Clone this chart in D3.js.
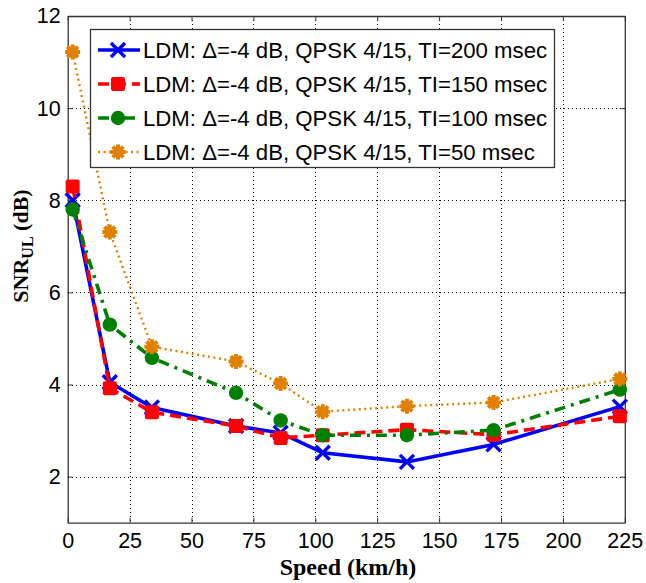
<!DOCTYPE html>
<html>
<head>
<meta charset="utf-8">
<script src="https://cdn.jsdelivr.net/npm/d3@7"></script>
<style>
  body { margin: 0; background: #fff; }
  svg { display: block; }
</style>
</head>
<body>
<script>
// speed points (km/h) shared by every curve
var speeds = [2, 17, 34, 68, 86, 103, 137, 172, 223];

var ti200 = [8.0, 4.05, 3.5, 3.1, 2.95, 2.52, 2.32, 2.7, 3.52];
var ti150 = [8.3, 3.92, 3.4, 3.1, 2.84, 2.9, 3.02, 2.91, 3.31];
var ti100 = [7.8, 5.3, 4.58, 3.82, 3.22, 2.9, 2.9, 3.01, 3.89];
var ti50  = [11.22, 7.31, 4.82, 4.5, 4.02, 3.41, 3.53, 3.61, 4.12];

var xTicks = [0, 25, 50, 75, 100, 125, 150, 175, 200, 225];
var yTicks = [2, 4, 6, 8, 10, 12];

var labels = [
    "LDM: \u0394=-4 dB, QPSK 4/15, TI=200 msec",
    "LDM: \u0394=-4 dB, QPSK 4/15, TI=150 msec",
    "LDM: \u0394=-4 dB, QPSK 4/15, TI=100 msec",
    "LDM: \u0394=-4 dB, QPSK 4/15, TI=50 msec"
];

var series = [
    {name: labels[0], values: ti200, color: "#0000ff", dash: null,         width: 3.6, marker: "cross"},
    {name: labels[1], values: ti150, color: "#ff0000", dash: "11,6",       width: 3.6, marker: "square"},
    {name: labels[2], values: ti100, color: "#008000", dash: "11,6,3,6",   width: 3.6, marker: "circle"},
    {name: labels[3], values: ti50,  color: "#e08000", dash: "2,3.5",      width: 2.4, marker: "star"}
];

var W = 646, H = 583;
var pl = 67.7, pr = 624.8, pt = 16, pb = 522.7;

var svg = d3.select("body").append("svg").attr("width", W).attr("height", H);

var x = d3.scaleLinear().domain([0, 225]).range([pl, pr]);
var y = d3.scaleLinear().domain([1, 12]).range([pb, pt]);

// grid (dotted)
var grid = svg.append("g").attr("stroke", "#000").attr("stroke-width", 1)
    .attr("stroke-dasharray", "1,3").attr("shape-rendering", "crispEdges");
grid.selectAll(".gx").data(xTicks.slice(1, -1)).enter().append("line")
    .attr("x1", function (d) { return Math.round(x(d)) + 0.5; })
    .attr("x2", function (d) { return Math.round(x(d)) + 0.5; })
    .attr("y1", pt).attr("y2", pb);
grid.selectAll(".gy").data(yTicks.slice(0, -1)).enter().append("line")
    .attr("y1", function (d) { return Math.round(y(d)) + 0.5; })
    .attr("y2", function (d) { return Math.round(y(d)) + 0.5; })
    .attr("x1", pl).attr("x2", pr);

// axes, ticks pointing inwards like matlab
var font = "'Liberation Sans', Arial, sans-serif";
svg.append("g").attr("transform", "translate(0," + pb + ")")
    .call(d3.axisBottom(x).tickValues(xTicks).tickSizeInner(-5).tickSizeOuter(0).tickPadding(10));
svg.append("g").attr("transform", "translate(" + pl + ",0)")
    .call(d3.axisLeft(y).tickValues(yTicks).tickSizeInner(-5).tickSizeOuter(0).tickPadding(7));
svg.append("g").attr("transform", "translate(0," + pt + ")")
    .call(d3.axisTop(x).tickValues(xTicks).tickSizeInner(-5).tickSizeOuter(0).tickFormat(""));
svg.append("g").attr("transform", "translate(" + pr + ",0)")
    .call(d3.axisRight(y).tickValues(yTicks).tickSizeInner(-5).tickSizeOuter(0).tickFormat(""));
svg.selectAll(".domain").attr("stroke", "#333").attr("stroke-width", 1.3);
svg.selectAll(".tick line").attr("stroke", "#333");
svg.selectAll(".tick text").attr("font-family", font).attr("font-size", 21.5).attr("fill", "#000");

// lines
var line = d3.line()
    .x(function (d, i) { return x(speeds[i]); })
    .y(function (d) { return y(d); });

function marker(g, type, color) {
    if (type === "cross") {
        g.append("path").attr("d", "M-7,-7L7,7M-7,7L7,-7")
            .attr("stroke", color).attr("stroke-width", 3.4).attr("fill", "none");
    } else if (type === "square") {
        g.append("rect").attr("x", -7).attr("y", -7).attr("width", 14).attr("height", 14)
            .attr("rx", 2).attr("fill", color);
    } else if (type === "circle") {
        g.append("circle").attr("r", 7.2).attr("fill", color);
    } else {
        g.append("path")
            .attr("d", "M-7.5,0L7.5,0M0,-7.5L0,7.5M-5.3,-5.3L5.3,5.3M-5.3,5.3L5.3,-5.3")
            .attr("stroke", color).attr("stroke-width", 4).attr("fill", "none");
    }
}

series.forEach(function (s) {
    var g = svg.append("g");
    g.append("path").datum(s.values)
        .attr("d", line).attr("fill", "none")
        .attr("stroke", s.color).attr("stroke-width", s.width)
        .attr("stroke-dasharray", s.dash);
    g.selectAll(".m").data(s.values).enter().append("g")
        .attr("transform", function (d, i) { return "translate(" + x(speeds[i]) + "," + y(d) + ")"; })
        .each(function () { marker(d3.select(this), s.marker, s.color); });
});

// legend
var lg = svg.append("g");
lg.append("rect").attr("x", 90.5).attr("y", 29.5).attr("width", 464).attr("height", 138)
    .attr("fill", "#fff").attr("stroke", "#333").attr("stroke-width", 1.3);
series.forEach(function (s, i) {
    var cy = 50 + i * 34;
    lg.append("line").attr("x1", 98).attr("x2", 140).attr("y1", cy).attr("y2", cy)
        .attr("stroke", s.color).attr("stroke-width", s.width).attr("stroke-dasharray", s.dash);
    marker(lg.append("g").attr("transform", "translate(118," + cy + ")"), s.marker, s.color);
    lg.append("text").attr("x", 143).attr("y", cy).attr("dy", "0.36em")
        .attr("font-family", font).attr("font-size", 22.2).text(s.name);
});

// axis titles
svg.append("text").attr("x", 348).attr("y", 575).attr("text-anchor", "middle")
    .attr("font-family", "'Liberation Serif', 'Times New Roman', serif")
    .attr("font-weight", "bold").attr("font-size", 24).text("Speed (km/h)");

var yl = svg.append("text").attr("transform", "translate(28,246) rotate(-90)")
    .attr("text-anchor", "middle")
    .attr("font-family", "'Liberation Serif', 'Times New Roman', serif")
    .attr("font-weight", "bold").attr("font-size", 22);
yl.append("tspan").text("SNR");
yl.append("tspan").attr("font-size", 16).attr("dy", 5).text("UL");
yl.append("tspan").attr("dy", -5).text(" (dB)");
</script>
</body>
</html>
